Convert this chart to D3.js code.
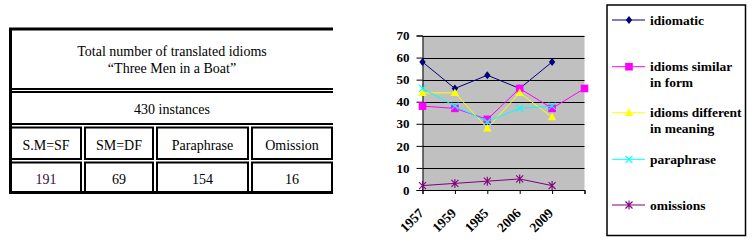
<!DOCTYPE html>
<html><head><meta charset="utf-8">
<script src="https://cdn.jsdelivr.net/npm/d3@7"></script>
<style>body{margin:0;background:#fff}svg{display:block}
svg text{font-family:"Liberation Serif","Times New Roman",serif;}
</style>
</head><body>
<svg id="c" width="755" height="250"></svg>
<script>
// ---- table data ----
const tableTitle = ["Total number of translated idioms", "\u201cThree Men in a Boat\u201d"];
const tableTotal = "430 instances";
const tableHeaders = ["S.M=SF", "SM=DF", "Paraphrase", "Omission"];
const tableValues = [191, 69, 154, 16];

// ---- chart data ----
const categories = ["1957", "1959", "1985", "2006", "2009", ""];
const idiomatic = [58, 46, 52, 46, 58, null];
const similarForm = [38, 37, 32, 46, 37, 46];
const differentMeaning = [44, 44, 28, 44, 33, null];
const paraphrase = [46, 38, 31, 37, 38, null];
const omissions = [2, 3, 4, 5, 2, null];
const seriesNames = ["idiomatic", "idioms similar\nin form", "idioms different\nin meaning", "paraphrase", "omissions"];
const seriesColors = ["#000080", "#FF00FF", "#FFFF00", "#00FFFF", "#800080"];
const yTicks = [0, 10, 20, 30, 40, 50, 60, 70];

const svg = d3.select("#c");

// ================= TABLE =================
const T = svg.append("g");
const colX = [[10, 82], [84, 154], [156, 249], [251, 333]];
const rowY = {r3: [126.5, 160], r4: [161.5, 193]};
T.append("path").attr("d", "M333,29 H10.5 V192.5 H333").attr("fill", "none").attr("stroke", "#000").attr("stroke-width", 3);
T.append("line").attr("x1", 12).attr("x2", 333).attr("y1", 89).attr("y2", 89).attr("stroke", "#000").attr("stroke-width", 2);
T.append("path").attr("d", "M333,92 H11 V124 H333").attr("fill", "none").attr("stroke", "#000").attr("stroke-width", 2);
[["r3", tableHeaders], ["r4", tableValues]].forEach(([r, vals]) => {
  const [y1, y2] = rowY[r];
  vals.forEach((v, i) => {
    const [x1, x2] = colX[i];
    T.append("rect").attr("x", x1 + 1).attr("y", y1 + 1).attr("width", x2 - x1 - 2).attr("height", y2 - y1 - 2)
      .attr("fill", "none").attr("stroke", "#000").attr("stroke-width", 2);
    T.append("text").attr("x", (x1 + x2) / 2).attr("y", r === "r3" ? 150 : 183.5)
      .attr("text-anchor", "middle").style("font-size", "14px")
      .attr("fill", (r === "r4" && i === 0) ? "#3a0a48" : "#000").text(v);
  });
});
tableTitle.forEach((t, i) => {
  T.append("text").attr("x", 172).attr("y", 56 + i * 17).attr("text-anchor", "middle")
    .style("font-size", "14px").attr("fill", "#000").text(t);
});
T.append("text").attr("x", 172).attr("y", 114).attr("text-anchor", "middle")
  .style("font-size", "14px").attr("fill", "#000").text(tableTotal);

// ================= CHART =================
const x = d3.scalePoint().domain(categories).range([422.5, 584.5]);
const y = d3.scaleLinear().domain([0, 70]).range([190, 35.5]);
const C = svg.append("g");
C.append("rect").attr("x", x.range()[0]).attr("y", y(70)).attr("width", x.range()[1] - x.range()[0])
  .attr("height", y(0) - y(70)).attr("fill", "#C0C0C0");
C.selectAll(".grid").data(yTicks.filter(d => d > 0)).join("line")
  .attr("x1", x.range()[0]).attr("x2", x.range()[1])
  .attr("y1", d => Math.round(y(d)) + 0.5).attr("y2", d => Math.round(y(d)) + 0.5)
  .attr("stroke", "#000").attr("stroke-width", 1);

const yAxis = d3.axisLeft(y).tickValues(yTicks).tickSize(6).tickPadding(7);
const ya = C.append("g").attr("transform", `translate(${x.range()[0]},0)`).call(yAxis);
ya.attr("font-family", null);
ya.select(".domain").attr("stroke", "#000");
ya.selectAll("text").style("font-size", "13px").style("font-weight", "bold").attr("fill", "#000");

const xAxis = d3.axisBottom(x).tickSize(4).tickFormat("");
const xa = C.append("g").attr("transform", `translate(0,${y(0)})`).call(xAxis);
xa.select(".domain").attr("stroke", "#000");
C.selectAll(".xl").data(categories).join("text")
  .attr("transform", d => `translate(${x(d) + 2},${y(0) + 24}) rotate(-45)`)
  .attr("text-anchor", "end").style("font-size", "13.5px").style("font-weight", "bold")
  .attr("fill", "#000").text(d => d);

function marker(g, type, color) {
  if (type === 0) g.append("path").attr("d", "M0,-4L3.2,0L0,4L-3.2,0Z").attr("fill", color);
  else if (type === 1) g.append("rect").attr("x", -3.8).attr("y", -3.8).attr("width", 7.6).attr("height", 7.6).attr("fill", color);
  else if (type === 2) g.append("path").attr("d", "M0,-4.5L4.2,3.2L-4.2,3.2Z").attr("fill", color);
  else if (type === 3) g.append("path").attr("d", "M-3.5,-3.5L3.5,3.5M-3.5,3.5L3.5,-3.5").attr("stroke", color).attr("stroke-width", 1.1);
  else g.append("path").attr("d", "M-3.5,-3.5L3.5,3.5M-3.5,3.5L3.5,-3.5M0,-4.5V4.5").attr("stroke", color).attr("stroke-width", 1.1);
}

const allSeries = [idiomatic, similarForm, differentMeaning, paraphrase, omissions];
const line = d3.line().defined(d => d.v !== null).x(d => x(d.c)).y(d => y(d.v));
allSeries.forEach((vals, si) => {
  const pts = vals.map((v, i) => ({c: categories[i], v}));
  C.append("path").datum(pts).attr("d", line).attr("fill", "none")
    .attr("stroke", seriesColors[si]).attr("stroke-width", 1);
  pts.filter(p => p.v !== null).forEach(p => {
    const g = C.append("g").attr("transform", `translate(${x(p.c)},${y(p.v)})`);
    marker(g, si, seriesColors[si]);
  });
});

// ================= LEGEND =================
const L = svg.append("g");
L.append("rect").attr("x", 607).attr("y", 5).attr("width", 138.5).attr("height", 230.5)
  .attr("fill", "none").attr("stroke", "#000").attr("stroke-width", 1.5);
const legY = [20, 66.7, 112.7, 159.3, 205];
seriesNames.forEach((name, si) => {
  const yy = legY[si];
  L.append("line").attr("x1", 612).attr("x2", 645).attr("y1", yy).attr("y2", yy)
    .attr("stroke", seriesColors[si]).attr("stroke-width", 1);
  const g = L.append("g").attr("transform", `translate(629,${yy})`);
  marker(g, si, seriesColors[si]);
  name.split("\n").forEach((t, li) => {
    L.append("text").attr("x", 650).attr("y", yy + 4.5 + li * 15.5)
      .style("font-size", "13.5px").style("font-weight", "bold").attr("fill", "#000").text(t);
  });
});
</script>
</body></html>
